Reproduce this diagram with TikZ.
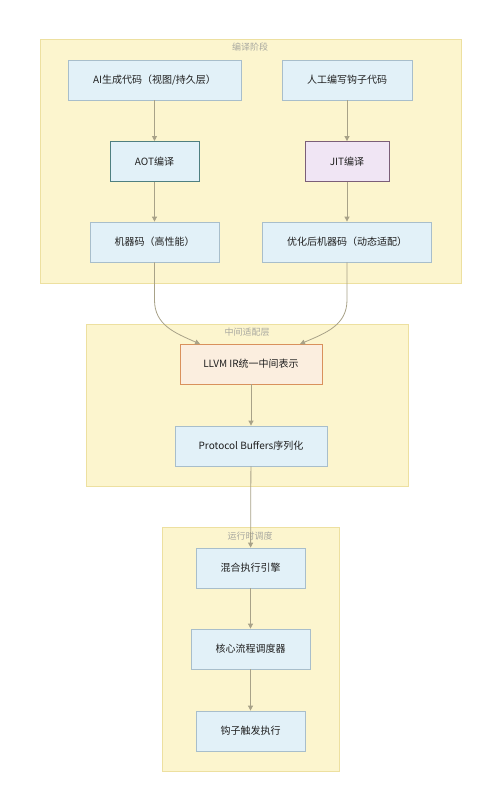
\documentclass[tikz,border=0pt]{standalone}
\usepackage{fontspec}
\setmainfont{Noto Sans CJK SC}
\usetikzlibrary{arrows.meta}
\definecolor{clfill}{HTML}{FCF5CE}
\definecolor{cldraw}{HTML}{EDE0A0}
\definecolor{ndfill}{HTML}{E2F1F8}
\definecolor{nddraw}{HTML}{A8BECB}
\definecolor{edgec}{HTML}{A8A288}
\definecolor{aotdraw}{HTML}{4F7F80}
\definecolor{jitfill}{HTML}{F0E5F4}
\definecolor{jitdraw}{HTML}{7B5E78}
\definecolor{llvmfill}{HTML}{FBEEDF}
\definecolor{llvmdraw}{HTML}{D9915C}
\definecolor{labc}{HTML}{A8A8A0}
\tikzset{
  cluster/.style={fill=clfill, draw=cldraw, line width=0.8pt},
  cltitle/.style={font=\fontsize{9}{10}\selectfont, text=labc, inner sep=0pt},
  box/.style={draw=nddraw, fill=ndfill, line width=0.8pt, font=\fontsize{10}{12}\selectfont, text=black!88, inner sep=0pt},
  aotbox/.style={box, draw=aotdraw, line width=1pt},
  jitbox/.style={box, fill=jitfill, draw=jitdraw},
  llvmbox/.style={box, fill=llvmfill, draw=llvmdraw},
  edge/.style={draw=edgec, line width=0.8pt, -{Triangle[length=5pt,width=5pt]}},
}
\begin{document}
\begin{tikzpicture}[x=1pt,y=-1pt]
\useasboundingbox (0,0) rectangle (500,811);
\fill[white] (0,0) rectangle (500,811);
% clusters
\draw[cluster] (40,39) rectangle (461,283);
\node[cltitle] (t1) at (250,47) {编译阶段};
\draw[cluster] (86,324) rectangle (408,486);
\node[cltitle] (t2) at (247,332) {中间适配层};
\draw[cluster] (162,527) rectangle (339,771);
\node[cltitle] (t3) at (250,536) {运行时调度};
% nodes
\node[box, minimum width=173pt, minimum height=40pt] (ai) at (154.5,80) {AI生成代码（视图/持久层）};
\node[box, minimum width=130pt, minimum height=40pt] (hook) at (347,80) {人工编写钩子代码};
\node[aotbox, minimum width=89pt, minimum height=40pt] (aot) at (154.5,161.5) {AOT编译};
\node[jitbox, minimum width=84pt, minimum height=40pt] (jit) at (347,161.5) {JIT编译};
\node[box, minimum width=129pt, minimum height=40pt] (mc) at (154.5,242) {机器码（高性能）};
\node[box, minimum width=169pt, minimum height=40pt] (omc) at (347,242) {优化后机器码（动态适配）};
\node[llvmbox, minimum width=142pt, minimum height=40pt] (llvm) at (251,364) {LLVM IR统一中间表示};
\node[box, minimum width=152pt, minimum height=40pt] (pb) at (251,446) {Protocol Buffers序列化};
\node[box, minimum width=109pt, minimum height=40pt] (mix) at (250.5,568) {混合执行引擎};
\node[box, minimum width=119pt, minimum height=40pt] (core) at (250.5,649) {核心流程调度器};
\node[box, minimum width=109pt, minimum height=40pt] (trig) at (250.5,731) {钩子触发执行};
% edges
\draw[edge] (ai) -- (aot);
\draw[edge] (aot) -- (mc);
\draw[edge] (hook) -- (jit);
\draw[edge] (jit) -- (omc);
\coordinate (l1) at (200,344);
\coordinate (l2) at (300,344);
\draw[edge] (mc.south) -- (154.5,300) .. controls (154.5,325) and (175,333) .. (l1);
\draw[edge] (omc.south) -- (347,300) .. controls (347,325) and (326,333) .. (l2);
\draw[edge] (llvm) -- (pb);
\draw[edge] (pb) -- (mix);
\draw[edge] (mix) -- (core);
\draw[edge] (core) -- (trig);
\end{tikzpicture}
\end{document}
